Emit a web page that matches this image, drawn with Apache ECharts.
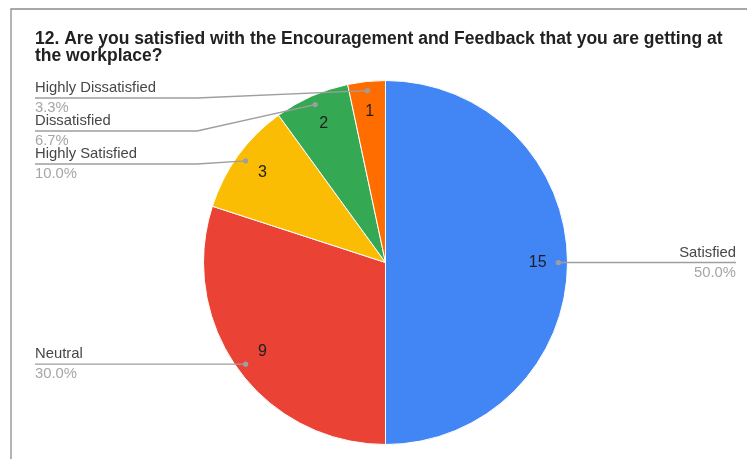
<!DOCTYPE html>
<html>
<head>
<meta charset="utf-8">
<script src="https://cdn.jsdelivr.net/npm/echarts@6/dist/echarts.min.js"></script>
<style>
  html, body { margin: 0; padding: 0; background: #fff; }
  #chart { width: 747px; height: 459px; }
</style>
</head>
<body>
<div id="chart"></div>
<script>
// Survey answers, in clockwise order from 12 o'clock
const categories = ['Satisfied', 'Neutral', 'Highly Satisfied', 'Dissatisfied', 'Highly Dissatisfied'];
const counts = [15, 9, 3, 2, 1];
const sliceColors = ['#4285F4', '#EA4335', '#FBBC04', '#34A853', '#FF6D01'];
const titleLines = [
  '12. Are you satisfied with the Encouragement and Feedback that you are getting at',
  'the workplace?'
];

// Pie geometry and callout layout
const CX = 385.5, CY = 262.5, R = 182;
const LEFT_X = 35, RIGHT_X = 736, ELBOW_X = 197, ROW_GAP = 33, DOT_R = 0.95, TOP_PAD = 17.5;
const FONT = '"Liberation Sans", Arial, sans-serif';

const total = counts.reduce((a, b) => a + b, 0);
const pct = v => (v / total * 100).toFixed(1) + '%';

// Anchor dot of each callout: on the slice's mid-angle, just inside the rim
let acc = 0;
const anchors = counts.map((v, i) => {
  const mid = (acc + v / 2) / total * 2 * Math.PI;
  acc += v;
  return { i, x: CX + DOT_R * R * Math.sin(mid), y: CY - DOT_R * R * Math.cos(mid) };
});

// Stack the callouts in a column on each side, top-down, without overlap
const lineY = [];
['left', 'right'].forEach(side => {
  const group = anchors
    .filter(a => (side === 'left' ? a.x < CX : a.x >= CX))
    .sort((a, b) => a.y - b.y);
  let prev = -Infinity;
  group.forEach(a => {
    const y = Math.max(a.y, prev + ROW_GAP, CY - R + TOP_PAD);
    lineY[a.i] = y;
    prev = y;
  });
});

const pieBase = {
  type: 'pie',
  center: [CX, CY],
  startAngle: 90,
  clockwise: true,
  silent: true,
  avoidLabelOverlap: false
};

const chart = echarts.init(document.getElementById('chart'), null, { renderer: 'canvas' });

chart.setOption({
  animation: false,
  backgroundColor: '#ffffff',
  title: {
    text: titleLines.join('\n'),
    left: 35,
    top: 31,
    padding: 0,
    textStyle: {
      fontFamily: FONT,
      fontSize: 17.5,
      fontWeight: 'bold',
      color: '#212121',
      lineHeight: 17
    }
  },
  graphic: [
    {
      type: 'rect',
      z: -10,
      shape: { x: 11, y: 9, width: 780, height: 500 },
      style: { fill: 'none', stroke: '#8c8c8c', lineWidth: 1.3 }
    }
  ].concat(anchors.map(a => ({
    type: 'circle',
    z: 100,
    silent: true,
    shape: { cx: a.x, cy: a.y, r: 2.6 },
    style: { fill: '#9e9e9e' }
  }))),
  series: [
    Object.assign({}, pieBase, {
      // coloured slices
      radius: [0, R],
      z: 2,
      itemStyle: { borderColor: '#ffffff', borderWidth: 1 },
      data: categories.map((name, i) => ({
        name, value: counts[i], itemStyle: { color: sliceColors[i] }
      })),
      label: { show: false },
      labelLine: { show: false }
    }),
    Object.assign({}, pieBase, {
      // transparent layer carrying the name / percent callouts above the slices
      radius: [0, R],
      z: 5,
      itemStyle: { color: 'rgba(0,0,0,0)' },
      data: categories.map((name, i) => ({ name, value: counts[i] })),
      label: {
        show: true,
        position: 'outside',
        formatter: p => '{n|' + p.name + '}\n{p|' + pct(p.value) + '}',
        rich: {
          n: { fontFamily: FONT, fontSize: 14.8, color: '#474747', lineHeight: 20 },
          p: { fontFamily: FONT, fontSize: 14.8, color: '#a6a6a6', lineHeight: 20 }
        }
      },
      labelLine: {
        show: true,
        showAbove: true,
        lineStyle: { color: '#9e9e9e', width: 1.3 }
      },
      labelLayout: params => {
        const i = params.dataIndex;
        const a = anchors[i];
        const left = a.x < CX;
        const y = lineY[i];
        const endX = left ? LEFT_X : RIGHT_X;
        const midX = left ? ELBOW_X : (a.x + RIGHT_X) / 2;
        return {
          x: endX,
          y: y,
          align: left ? 'left' : 'right',
          verticalAlign: 'middle',
          labelLinePoints: [[a.x, a.y], [midX, y], [endX, y]]
        };
      }
    }),
    Object.assign({}, pieBase, {
      // transparent ring that carries the count labels inside the slices
      radius: [R * 0.64, R],
      z: 6,
      itemStyle: { color: 'rgba(0,0,0,0)' },
      data: categories.map((name, i) => ({ name, value: counts[i] })),
      label: {
        show: true,
        position: 'inside',
        formatter: '{c}',
        fontFamily: FONT,
        fontSize: 16,
        color: '#1f1f1f'
      },
      labelLine: { show: false }
    })
  ]
});
</script>
</body>
</html>
